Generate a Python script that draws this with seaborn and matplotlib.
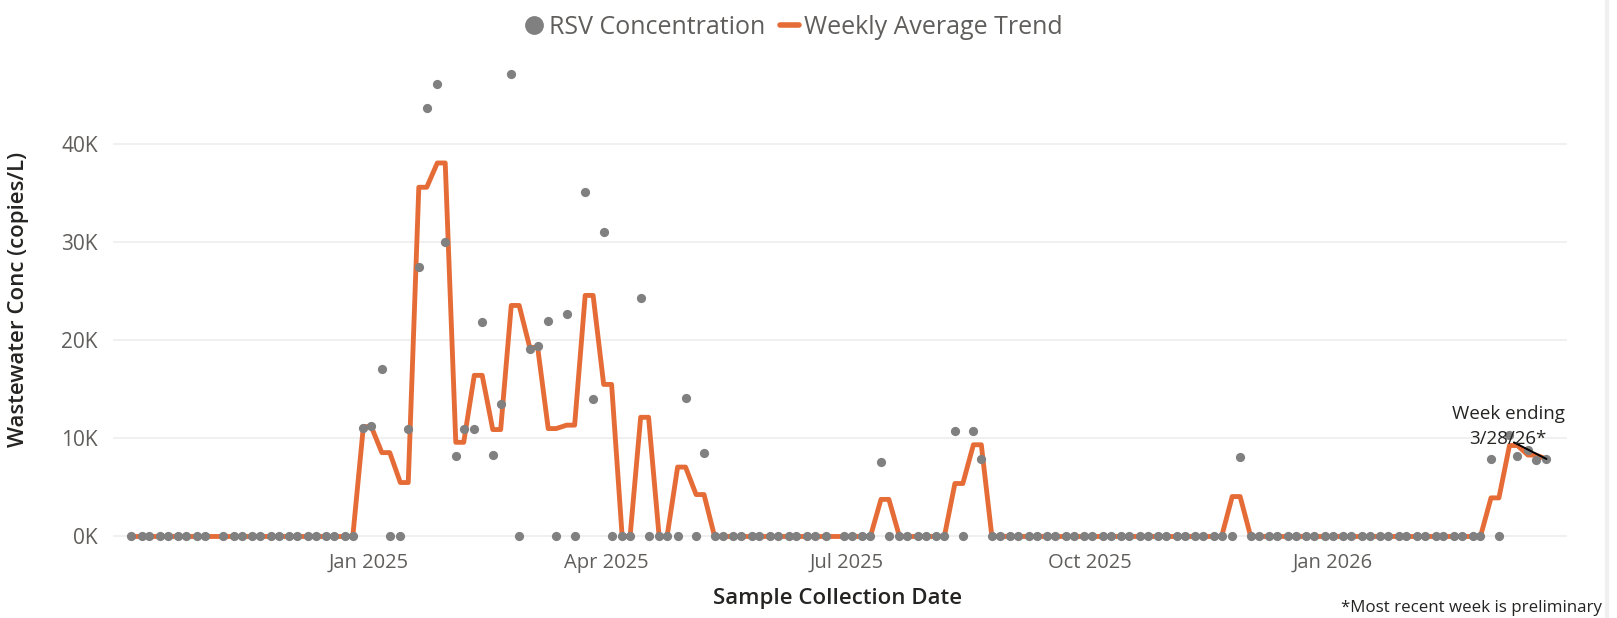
import numpy as np
import pandas as pd
import matplotlib
matplotlib.use("Agg")
import matplotlib.pyplot as plt
import matplotlib.dates as mdates
from matplotlib.lines import Line2D
from matplotlib.ticker import FuncFormatter
import seaborn as sns

# sampling schedule: Monday and Thursday samples
first_sample = "2024-10-03"
last_sample = "2026-03-23"
missing_dates = ["2024-11-04", "2025-06-26"]

# samples with RSV detected (copies/L); every other sample reads 0
detected_dates = [
    "2024-12-30", "2025-01-02", "2025-01-06", "2025-01-16", "2025-01-20",
    "2025-01-23", "2025-01-27", "2025-01-30", "2025-02-03", "2025-02-06",
    "2025-02-10", "2025-02-13", "2025-02-17", "2025-02-20", "2025-02-24",
    "2025-03-03", "2025-03-06", "2025-03-10", "2025-03-17", "2025-03-24",
    "2025-03-27", "2025-03-31", "2025-04-14", "2025-05-01", "2025-05-08",
    "2025-07-14", "2025-08-11", "2025-08-18", "2025-08-21", "2025-11-27",
    "2026-03-02", "2026-03-09", "2026-03-12", "2026-03-16", "2026-03-19",
    "2026-03-23",
]
detected_values = [
    11100, 11300, 17100, 11000, 27500,
    43700, 46100, 30050, 8200, 11000,
    10950, 21900, 8300, 13500, 47100,
    19150, 19400, 22000, 22700, 35150,
    14000, 31000, 24300, 14150, 8550,
    7560, 10800, 10800, 7900, 8140,
    7870, 10350, 8200, 8800, 7800,
    7900,
]

tick_dates = ["2025-01-01", "2025-04-01", "2025-07-01", "2025-10-01", "2026-01-01"]
y_ticks = [0, 10000, 20000, 30000, 40000]

GRAY = "#808080"
ORANGE = "#E66C37"
TEXT = "#605E5C"
DARK = "#252423"

# build the sample table
dates = pd.date_range(first_sample, last_sample, freq="W-MON").union(
    pd.date_range(first_sample, last_sample, freq="W-THU"))
dates = dates.drop(pd.to_datetime(missing_dates))
df = pd.DataFrame({"conc": 0.0}, index=dates)
df.loc[pd.to_datetime(detected_dates), "conc"] = detected_values
df = df.rename_axis("date").reset_index()
# weekly average (weeks end on Saturday)
df["trend"] = df.groupby(pd.Grouper(key="date", freq="W-SAT"))["conc"].transform("mean")

sns.set_theme(style="white")
plt.rcParams["font.family"] = ["Open Sans", "DejaVu Sans"]

fig = plt.figure(figsize=(16.17, 6.18), dpi=100)
ax = fig.add_axes([0.0699, 0.1165, 0.8992, 0.7832])

sns.lineplot(data=df, x="date", y="trend", color=ORANGE, lw=3.5, ax=ax,
             zorder=2, solid_joinstyle="round")
sns.scatterplot(data=df, x="date", y="conc", color=GRAY, s=44, linewidth=0,
                ax=ax, zorder=3, clip_on=False)

ax.set_xlim(pd.Timestamp("2024-09-26 05:00"), pd.Timestamp("2026-03-30 19:00"))
ax.set_ylim(-970, 48370)
ax.set_yticks(y_ticks)
ax.yaxis.set_major_formatter(FuncFormatter(lambda v, p: f"{int(v / 1000)}K"))
ax.set_xticks(pd.to_datetime(tick_dates))
ax.xaxis.set_major_formatter(mdates.DateFormatter("%b %Y"))

for s in ax.spines.values():
    s.set_visible(False)
ax.grid(axis="y", color="#EDEDED", lw=1.2)
ax.grid(axis="x", visible=False)
ax.tick_params(axis="y", length=0, pad=11, labelsize=15, labelcolor=TEXT)
ax.tick_params(axis="x", length=0, pad=5, labelsize=14.5, labelcolor=TEXT)

ax.set_xlabel("Sample Collection Date", fontsize=16, fontweight="semibold", color=DARK)
ax.set_ylabel("Wastewater Conc (copies/L)", fontsize=16, fontweight="semibold", color=DARK)
ax.xaxis.label.set_va("center")
ax.xaxis.set_label_coords(0.4986, -0.108)
ax.yaxis.label.set_va("center")
ax.yaxis.set_label_coords(-0.065, 0.51)

# label for the most recent (preliminary) week
last = df.iloc[-1]
week_end = last["date"] + pd.offsets.Week(weekday=5)
ax.annotate(f"Week ending\n{week_end.month}/{week_end.day}/{week_end:%y}*",
            xy=(last["date"], last["conc"]), xytext=(-27.5, 23.5),
            textcoords="offset points", ha="center", va="center",
            fontsize=13.5, color=DARK, linespacing=1.45, zorder=5,
            arrowprops=dict(arrowstyle="-", color="black", lw=1.4, patchA=None,
                            shrinkA=0, shrinkB=0, relpos=(0.55, 0.12)))

handles = [Line2D([], [], marker="o", ls="", color=GRAY, markersize=12.5),
           Line2D([], [], color=ORANGE, lw=4)]
fig.legend(handles, ["RSV Concentration", "Weekly Average Trend"],
           loc="center", bbox_to_anchor=(0.4907, 0.9555), ncol=2, frameon=False,
           fontsize=18, handlelength=0.75, handletextpad=0.2, columnspacing=0.6,
           labelcolor=TEXT)

fig.text(1602 / 1617, 1 - 608 / 618, "*Most recent week is preliminary",
         ha="right", va="center", fontsize=12.2, color=DARK)
fig.add_artist(Line2D([1607 / 1617] * 2, [0, 1], transform=fig.transFigure,
                      color="#F0F0F0", lw=3))

fig.savefig("out.png", dpi=100)
